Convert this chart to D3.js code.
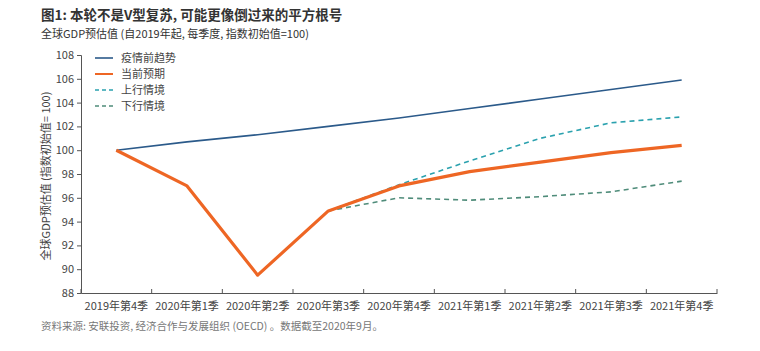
<!DOCTYPE html>
<html>
<head>
<meta charset="utf-8">
<script src="https://cdn.jsdelivr.net/npm/d3@7"></script>
<style>
  body { margin: 0; background: #fff; }
  svg { font-family: "Noto Sans CJK SC", "Noto Sans", sans-serif; }
</style>
</head>
<body>
<div id="chart"></div>
<script>
// quarters on the x axis
var quarters = ["2019年第4季", "2020年第1季", "2020年第2季", "2020年第3季", "2020年第4季",
                "2021年第1季", "2021年第2季", "2021年第3季", "2021年第4季"];

// series values (index, 2019Q4 = 100)
var preTrend = [100, 100.7, 101.3, 102.0, 102.7, 103.5, 104.3, 105.1, 105.9];
var current  = [100, 97.0, 89.5, 94.9, 97.0, 98.2, 99.0, 99.8, 100.4];
var upside   = [null, null, null, 94.9, 97.1, 99.1, 101.0, 102.3, 102.8];
var downside = [null, null, null, 94.9, 96.0, 95.8, 96.1, 96.5, 97.4];

var yTicks = [88, 90, 92, 94, 96, 98, 100, 102, 104, 106, 108];

var seriesNames = ["疫情前趋势", "当前预期", "上行情境", "下行情境"];

var series = [
  {name: seriesNames[0], values: preTrend, color: "#2b5a8a", width: 1.6, dash: null},
  {name: seriesNames[1], values: current,  color: "#ee6624", width: 3.2, dash: null},
  {name: seriesNames[2], values: upside,   color: "#2aa1ae", width: 1.6, dash: "5,4"},
  {name: seriesNames[3], values: downside, color: "#4f8c7a", width: 1.6, dash: "5,4"}
];

var W = 760, H = 351;
var margin = {top: 55, right: 43, bottom: 58, left: 81},
    width = W - margin.left - margin.right,
    height = H - margin.top - margin.bottom;

var svg = d3.select("#chart")
  .append("svg")
    .attr("width", W)
    .attr("height", H);

// titles
svg.append("text")
  .attr("x", 41).attr("y", 20)
  .attr("font-size", 13.5).attr("font-weight", "bold").attr("fill", "#333")
  .text("图1: 本轮不是V型复苏, 可能更像倒过来的平方根号");
svg.append("text")
  .attr("x", 41).attr("y", 38)
  .attr("font-size", 11).attr("fill", "#333")
  .text("全球GDP预估值 (自2019年起, 每季度, 指数初始值=100)");

var g = svg.append("g")
  .attr("transform", "translate(" + margin.left + "," + margin.top + ")");

// X axis
var x = d3.scaleBand()
  .range([0, width])
  .domain(quarters);

var xAxis = g.append("g")
  .attr("transform", "translate(0," + height + ")")
  .call(d3.axisBottom(x).tickSize(0).tickPadding(9));
xAxis.selectAll("text").attr("font-size", 11).attr("fill", "#444")
  .attr("font-family", "\"Noto Sans CJK SC\", sans-serif");
xAxis.select(".domain").attr("stroke", "#555");

// boundary tick marks between quarters
var bounds = quarters.map(function(d) { return x(d); }).concat([width]);
xAxis.selectAll("line.bound")
  .data(bounds)
  .enter().append("line")
    .attr("class", "bound")
    .attr("x1", function(d) { return d; }).attr("x2", function(d) { return d; })
    .attr("y1", 0).attr("y2", -4)
    .attr("stroke", "#555");

// Y axis
var y = d3.scaleLinear()
  .domain([88, 108])
  .range([height, 0]);

var yAxis = g.append("g")
  .call(d3.axisLeft(y).tickValues(yTicks).tickSize(4).tickPadding(3));
yAxis.selectAll("text").attr("font-size", 11).attr("fill", "#444")
  .attr("font-family", "\"Noto Sans CJK SC\", sans-serif");
yAxis.selectAll("line").attr("stroke", "#555");
yAxis.select(".domain").attr("stroke", "#555");

svg.append("text")
  .attr("transform", "translate(50," + (margin.top + height / 2 + 2) + ") rotate(-90)")
  .attr("text-anchor", "middle")
  .attr("font-size", 11).attr("fill", "#444")
  .text("全球GDP预估值 (指数初始值= 100)");

// lines
var line = d3.line()
  .defined(function(d) { return d != null; })
  .x(function(d, i) { return x(quarters[i]) + x.bandwidth() / 2; })
  .y(function(d) { return y(d); });

// draw dashed scenarios first, then trend, then current on top
[series[3], series[2], series[0], series[1]].forEach(function(s) {
  g.append("path")
    .datum(s.values)
    .attr("fill", "none")
    .attr("stroke", s.color)
    .attr("stroke-width", s.width)
    .attr("stroke-dasharray", s.dash)
    .attr("stroke-linejoin", "round")
    .attr("d", line);
});

// legend
var legend = g.append("g").attr("transform", "translate(14,3)");
series.forEach(function(s, i) {
  var row = legend.append("g").attr("transform", "translate(0," + (i * 16) + ")");
  row.append("line")
    .attr("x1", 0).attr("x2", 18).attr("y1", 0).attr("y2", 0)
    .attr("stroke", s.color)
    .attr("stroke-width", i === 1 ? 2 : 1.6)
    .attr("stroke-dasharray", s.dash ? "4,3" : null);
  row.append("text")
    .attr("x", 26).attr("y", 4)
    .attr("font-size", 11).attr("fill", "#444")
    .text(s.name);
});

// source
svg.append("text")
  .attr("x", 41).attr("y", 330)
  .attr("font-size", 10.5).attr("fill", "#777")
  .text("资料来源: 安联投资, 经济合作与发展组织 (OECD) 。数据截至2020年9月。");
</script>
</body>
</html>
